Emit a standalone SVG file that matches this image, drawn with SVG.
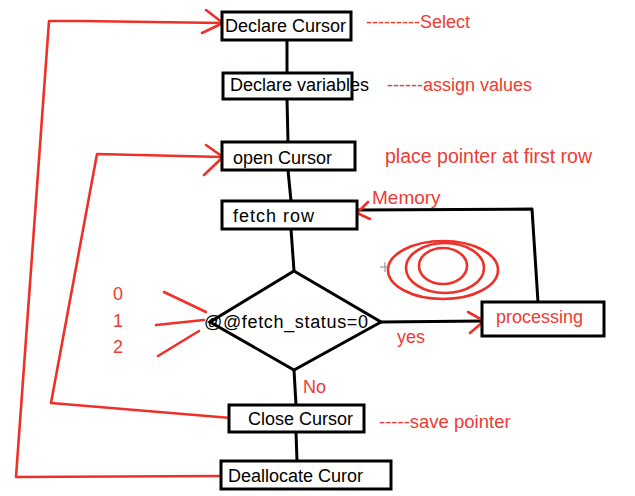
<svg xmlns="http://www.w3.org/2000/svg" width="635" height="496" viewBox="0 0 635 496">
<style>
.box{fill:#fff;stroke:#000;stroke-width:3}
.t{font-family:"Liberation Sans",Arial,sans-serif;font-size:18px;fill:#000}
.r{font-family:"Liberation Sans",Arial,sans-serif;font-size:18px;fill:#ee3b33}
.c{fill:none;stroke:#000;stroke-width:3;stroke-linecap:round;stroke-linejoin:round}
.rl{fill:none;stroke:#ee3128;stroke-width:2.6;stroke-linecap:round;stroke-linejoin:round}
</style>
<rect width="635" height="496" fill="#fff"/>
<g id="connectors">
<line class="c" x1="287" y1="40" x2="287" y2="73"/>
<line class="c" x1="287" y1="99" x2="288" y2="142"/>
<line class="c" x1="288" y1="170" x2="291" y2="201"/>
<line class="c" x1="291" y1="229" x2="294" y2="271"/>
<line class="c" x1="381" y1="322" x2="484" y2="321"/>
<polyline class="c" points="357,210 532,209 538,302"/>
<line class="c" x1="294" y1="370" x2="296" y2="405"/>
<line class="c" x1="296" y1="432" x2="297" y2="461"/>
<polyline class="rl" points="222,23 81,21 49,21 16,477 221,476"/>
<polyline class="rl" points="206,10 223,23 202,33"/>
<polyline class="rl" points="222,157 97,154 51,403 231,418"/>
<polyline class="rl" points="206,145 223,157 204,175"/>
<polyline class="rl" points="468,312 484,321 470,333"/>
<polyline class="rl" points="368,202 357,213 370,219"/>
</g>
<g id="declare-cursor"><rect class="box" x="222" y="12" width="129" height="28"/><text class="t" x="225" y="32">Declare Cursor</text></g>
<g id="declare-variables"><rect class="box" x="223" y="73" width="129" height="26"/><text class="t" x="230" y="91">Declare variables</text></g>
<g id="open-cursor"><rect class="box" x="222" y="142" width="133" height="28"/><text class="t" x="233" y="164">open Cursor</text></g>
<g id="fetch-row"><rect class="box" x="222" y="201" width="135" height="28"/><text class="t" x="233" y="222" textLength="81">fetch row</text></g>
<g id="fetch-status"><polygon class="box" points="294,271 381,322 294,370 210,322"/><text class="t" x="204" y="328" textLength="164">@@fetch_status=0</text></g>
<g id="processing"><rect class="box" x="482" y="302" width="122" height="34"/><text class="r" x="496" y="323">processing</text></g>
<g id="close-cursor"><rect class="box" x="229" y="405" width="135" height="27"/><text class="t" x="248" y="425">Close Cursor</text></g>
<g id="deallocate-cursor"><rect class="box" x="221" y="461" width="170" height="28"/><text class="t" x="228" y="482">Deallocate Curor</text></g>
<g id="annotations">
<text class="r" x="366" y="28">---------Select</text>
<text class="r" x="387" y="91">------assign values</text>
<text class="r" x="385" y="163" style="font-size:19.5px">place pointer at first row</text>
<text class="r" x="372" y="204" style="font-size:19px">Memory</text>
<text class="r" x="397" y="343">yes</text>
<text class="r" x="303" y="393">No</text>
<text class="r" x="379" y="428" style="font-size:18.5px">-----save pointer</text>
<text class="r" x="113" y="300">0</text>
<text class="r" x="113" y="327">1</text>
<text class="r" x="113" y="353">2</text>
<line class="rl" x1="164" y1="292" x2="206" y2="312"/>
<line class="rl" x1="156" y1="325" x2="204" y2="320"/>
<line class="rl" x1="158" y1="356" x2="199" y2="331"/>
<ellipse class="rl" cx="443" cy="270" rx="55" ry="29"/>
<ellipse class="rl" cx="445" cy="268" rx="39" ry="25"/>
<ellipse class="rl" cx="443" cy="266" rx="24" ry="18"/>
<path d="M380,267h10M385,262v10" stroke="#888" stroke-width="1" fill="none"/>
</g>
</svg>
